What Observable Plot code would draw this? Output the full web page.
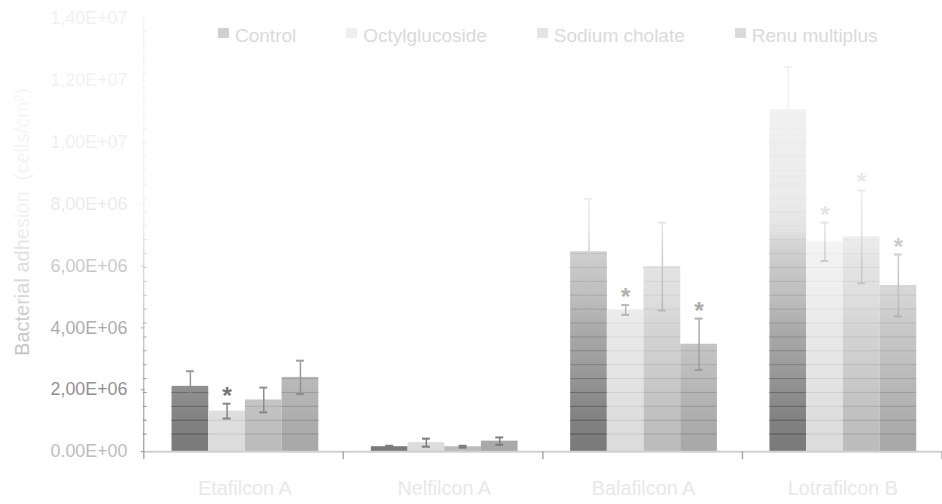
<!DOCTYPE html>
<html>
<head>
<meta charset="utf-8">
<script src="https://cdn.jsdelivr.net/npm/d3@7"></script>
<script src="https://cdn.jsdelivr.net/npm/@observablehq/plot@0.6"></script>
<style>
  html, body { margin: 0; padding: 0; background: #fff; overflow: hidden; }
  #wrap { position: relative; width: 942px; height: 504px; overflow: hidden; font-family: "Liberation Sans", Arial, sans-serif; }
  #fade { position: absolute; left: 0; top: 0; width: 942px; height: 455px; pointer-events: none; z-index: 1;
    background: linear-gradient(to bottom,
      rgba(255,255,255,0.88) 0px,
      rgba(255,255,255,0.9) 110px,
      rgba(255,255,255,0.87) 150px,
      rgba(255,255,255,0.85) 200px,
      rgba(255,255,255,0.8) 228px,
      rgba(255,255,255,0.68) 245px,
      rgba(255,255,255,0.58) 270px,
      rgba(255,255,255,0.5) 300px,
      rgba(255,255,255,0.36) 330px,
      rgba(255,255,255,0.28) 360px,
      rgba(255,255,255,0.16) 390px,
      rgba(255,255,255,0.06) 420px,
      rgba(255,255,255,0) 450px); }
  #legend { position: absolute; left: 218px; top: 26px; display: flex; gap: 50px; z-index: 2;
    font-size: 19px; line-height: 19px; color: #dadada; }
  .item { display: flex; align-items: flex-start; }
  .sw { width: 11px; height: 10px; margin-top: 2px; margin-right: 6px; }
  #ytitle { position: absolute; left: 22px; top: 222px; transform: translate(-50%, -50%) rotate(-90deg);
    white-space: pre; font-size: 20px; line-height: 20px; color: #aaa; }
</style>
</head>
<body>
<div id="wrap"><div id="ytitle"></div><div id="fade"></div><div id="legend"></div></div>
<script>
// ---- data ----
const lenses = ["Etafilcon A", "Nelfilcon A", "Balafilcon A", "Lotrafilcon B"];
const seriesNames = ["Control", "Octylglucoside", "Sodium cholate", "Renu multiplus"];

const controlMean = [2.11e6, 0.16e6, 6.46e6, 11.05e6];
const controlSd   = [0.49e6, 0.03e6, 1.71e6, 1.38e6];
const octylMean   = [1.31e6, 0.29e6, 4.58e6, 6.78e6];
const octylSd     = [0.24e6, 0.13e6, 0.16e6, 0.62e6];
const cholateMean = [1.67e6, 0.16e6, 5.98e6, 6.94e6];
const cholateSd   = [0.40e6, 0.03e6, 1.42e6, 1.50e6];
const renuMean    = [2.40e6, 0.34e6, 3.47e6, 5.37e6];
const renuSd      = [0.54e6, 0.12e6, 0.83e6, 1.00e6];

const controlSig  = [false, false, false, false];
const octylSig    = [true,  false, true,  true];
const cholateSig  = [false, false, false, true];
const renuSig     = [false, false, true,  true];

const yTicks = [0, 2e6, 4e6, 6e6, 8e6, 1e7, 1.2e7, 1.4e7];
const yTickLabels = ["0.00E+00", "2,00E+06", "4,00E+06", "6,00E+06", "8,00E+06", "1,00E+07", "1,20E+07", "1,40E+07"];
const yTitle = "Bacterial adhesion  (cells/cm\u00B2)";

// ---- styles ----
const barFill = {"Control": "#7a7a7a", "Octylglucoside": "#dcdcdc", "Sodium cholate": "#bcbcbc", "Renu multiplus": "#a8a8a8"};
const stripeStroke = {"Control": "#505050", "Octylglucoside": "#c6c6c6", "Sodium cholate": "#a2a2a2", "Renu multiplus": "#8c8c8c"};
const legendFill = {"Control": "#d0d0d0", "Octylglucoside": "#efefef", "Sodium cholate": "#e4e4e4", "Renu multiplus": "#dadada"};
const stripeStart = 0.567e6, stripeStep = 0.4486e6; // texture / minor-grid spacing

const means = [controlMean, octylMean, cholateMean, renuMean];
const sds = [controlSd, octylSd, cholateSd, renuSd];
const sigs = [controlSig, octylSig, cholateSig, renuSig];

const rows = [];
lenses.forEach((lens, i) => seriesNames.forEach((s, j) => {
  rows.push({lens, series: s, value: means[j][i], sd: sds[j][i], sig: sigs[j][i]});
}));
const minorTicks = d3.range(stripeStart, 1.4e7, stripeStep);
const stripes = [];
rows.forEach(r => minorTicks.forEach(t => { if (t < r.value - 1) stripes.push({lens: r.lens, series: r.series, y: t}); }));

const plot = Plot.plot({
  width: 950, height: 504,
  marginLeft: 145, marginRight: 0, marginTop: 18, marginBottom: 49,
  style: {fontFamily: "'Liberation Sans', Arial, sans-serif", background: "transparent", overflow: "visible"},
  fx: {domain: lenses, padding: 0, label: null, axis: null},
  x: {domain: seriesNames, paddingInner: 0, paddingOuter: 0.716, axis: null},
  y: {domain: [0, 1.4e7], axis: null},
  color: {type: "identity"},
  marks: [
    Plot.barY(rows, {fx: "lens", x: "series", y: "value", fill: d => barFill[d.series]}),
    Plot.tickY(stripes, {fx: "lens", x: "series", y: "y", stroke: d => stripeStroke[d.series], strokeWidth: 1}),
    Plot.ruleX(rows, {fx: "lens", x: "series", y1: d => d.value - d.sd, y2: d => d.value + d.sd, stroke: "#7a7a7a", strokeWidth: 1.5}),
    Plot.tickY(rows, {fx: "lens", x: "series", y: d => d.value - d.sd, insetLeft: 14.5, insetRight: 14.5, stroke: "#7a7a7a", strokeWidth: 2}),
    Plot.tickY(rows, {fx: "lens", x: "series", y: d => d.value + d.sd, insetLeft: 14.5, insetRight: 14.5, stroke: "#7a7a7a", strokeWidth: 2}),
    Plot.text(rows.filter(d => d.sig), {fx: "lens", x: "series", y: d => d.value + d.sd, text: () => "*", dy: -8, fontSize: 25, fontWeight: "bold", fill: "#5a5a5a"}),
    Plot.ruleY([0], {stroke: "#d0d0d0", strokeWidth: 2}),
    Plot.axisY(yTicks, {tickSize: 4, tickPadding: 14, fontSize: 18, stroke: "#888",
      tickFormat: d => yTickLabels[yTicks.indexOf(d)],
      fill: d => d === 0 ? "#bdbdbd" : "#7b7b7b", label: null}),
    Plot.axisY(minorTicks, {tickSize: 4, dx: 2, stroke: "#888", tickFormat: () => "", label: null}),
    Plot.axisFx({anchor: "bottom", tickSize: 0, tickPadding: 29, fontSize: 20, fill: "#e8e8e8", label: null})
  ]
});

// axis line and category boundary ticks, placed through the plot's own scales
const fx = plot.scale("fx");
const band = d3.scaleBand().domain(fx.domain).range(fx.range).padding(0);
const bounds = lenses.map(d => band(d)).concat([band(lenses[lenses.length - 1]) + band.bandwidth()]);
const yS = plot.scale("y");
const ys = d3.scaleLinear(yS.domain, yS.range);
const svg = d3.select(plot);
svg.append("line")
  .attr("x1", bounds[0]).attr("x2", bounds[0])
  .attr("y1", ys(0)).attr("y2", ys(yS.domain[1]) - 3)
  .attr("stroke", "#888").attr("stroke-width", 1);
svg.append("g").selectAll("line").data(bounds).join("line")
  .attr("x1", d => d).attr("x2", d => d)
  .attr("y1", ys(0)).attr("y2", ys(0) + 8)
  .attr("stroke", "#aaa").attr("stroke-width", 1.5);

document.getElementById("wrap").prepend(plot);
plot.style.position = "absolute"; plot.style.left = "0"; plot.style.top = "0";

document.getElementById("ytitle").textContent = yTitle;
const legend = d3.select("#legend");
seriesNames.forEach(s => {
  const it = legend.append("div").attr("class", "item");
  it.append("div").attr("class", "sw").style("background", legendFill[s]);
  it.append("span").text(s);
});
</script>
</body>
</html>
